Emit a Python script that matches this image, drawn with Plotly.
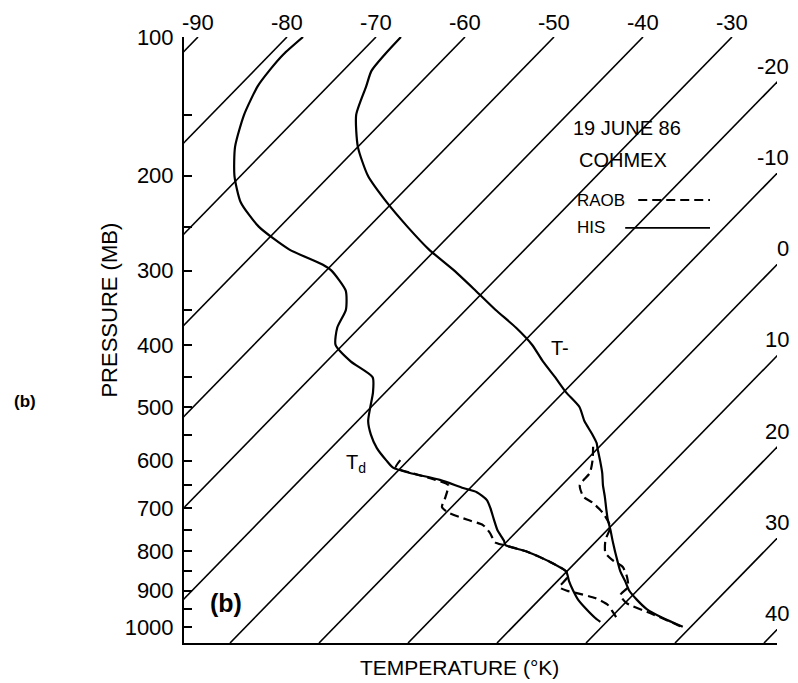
import plotly.graph_objects as go

# ---------------- data (pressure in mb, temperature in deg C) ----------------
his_T_p = [100, 110, 120, 130, 150, 175, 200, 225, 250, 275, 300, 325, 350, 375, 400,
           425, 450, 475, 500, 525, 550, 566, 575, 600, 625, 650, 675, 700, 725, 750,
           775, 800, 825, 850, 875, 900, 925, 950, 975, 1000]
his_T = [-67.2, -67.1, -66.8, -65.7, -63.7, -60.0, -55.7, -50.7, -45.7, -40.8, -35.6,
         -31.0, -26.7, -22.4, -18.7, -15.7, -12.6, -9.7, -6.6, -4.5, -2.1, -0.7, -0.1,
         1.6, 3.2, 4.6, 6.1, 7.5, 8.9, 10.4, 11.8, 13.2, 14.6, 16.0, 17.6, 19.1, 21.0,
         23.1, 25.9, 29.1]

his_Td_p = [100, 110, 120, 130, 150, 175, 200, 225, 250, 275, 293, 300, 325, 350, 375,
            400, 425, 450, 475, 500, 525, 550, 575, 600, 614, 625, 639, 656, 665, 682,
            700, 725, 750, 775, 785, 800, 825, 850, 875, 900, 925, 950, 975, 986]
his_Td = [-78.2, -78.5, -78.3, -77.9, -76.3, -73.8, -70.7, -67.1, -62.4, -56.5, -51.0,
          -49.4, -45.6, -43.5, -42.5, -40.8, -37.3, -33.1, -31.4, -30.1, -28.8, -27.0,
          -24.9, -22.4, -20.9, -18.4, -14.3, -10.8, -8.8, -6.8, -5.5, -3.9, -2.3, -0.4,
          0.2, 3.2, 6.9, 9.9, 11.3, 12.8, 14.4, 16.3, 18.3, 19.3]

raob_T_p = [573, 599, 625, 650, 675, 688, 711, 742, 773, 804, 822, 839, 865, 891, 912,
            934, 961, 989, 1001]
raob_T = [-0.7, 0.7, 1.8, 2.0, 3.7, 5.4, 7.7, 10.0, 10.9, 12.3, 13.9, 15.8, 17.4, 18.6,
          18.6, 20.2, 23.9, 27.6, 29.1]

raob_Td_p = [599, 614, 625, 639, 650, 675, 697, 708, 726, 738, 757, 778, 785, 800, 825,
             850, 865, 891, 901, 907, 920, 939, 958, 981]
raob_Td = [-20.9, -20.6, -18.2, -14.8, -12.8, -11.8, -11.1, -10.0, -6.8, -4.5, -2.8,
           -1.3, 0.0, 3.2, 6.9, 9.9, 10.7, 10.9, 12.2, 13.5, 16.1, 18.3, 19.6, 21.1]

isotherms = list(range(-90, 41, 10))
top_labels = [-90, -80, -70, -60, -50, -40, -30]
right_labels = [-20, -10, 0, 10, 20, 30, 40]

p_major = [100, 200, 300, 400, 500, 600, 700, 800, 900, 1000]
p_minor = [150, 250, 350, 450, 550, 650, 750, 850, 950]

# ---------------- diagram projection ----------------
KAPPA = 0.286
P_TOP, P_BOT = 100, 1047
SKEW = 18.58
X_LEFT, X_RIGHT = -25.17, 41.46


def Yp(p):
    return p ** KAPPA


Y_TOP, Y_BOT = Yp(P_TOP), Yp(P_BOT)


def X(T, p):
    return T + SKEW * (Y_BOT - Yp(p))


FONT = "Liberation Sans, Arial, sans-serif"
fig = go.Figure()

# isotherms
for t in isotherms:
    fig.add_trace(go.Scatter(
        x=[X(t, P_TOP), X(t, P_BOT)], y=[Y_TOP, Y_BOT], mode="lines",
        line=dict(color="black", width=1.6), hoverinfo="skip", showlegend=False))


def curve(ps, ts, dash, name):
    fig.add_trace(go.Scatter(
        x=[X(t, p) for p, t in zip(ps, ts)], y=[Yp(p) for p in ps], mode="lines",
        line=dict(color="black", width=2.2, dash=dash, shape="spline", smoothing=0.6),
        name=name, showlegend=False))


curve(his_T_p, his_T, "solid", "HIS T")
curve(his_Td_p, his_Td, "solid", "HIS Td")
curve(raob_T_p, raob_T, "9px,5px", "RAOB T")
curve(raob_Td_p, raob_Td, "9px,5px", "RAOB Td")

ann = []
for t in top_labels:
    ann.append(dict(x=X(t, P_TOP), y=Y_TOP, text=str(t), showarrow=False,
                    xanchor="center", yanchor="middle", yshift=15,
                    font=dict(size=22, color="black", family=FONT)))
for t in right_labels:
    y_end = Y_BOT - (X_RIGHT - t) / SKEW
    ann.append(dict(x=X_RIGHT, y=y_end, text=str(t), showarrow=False,
                    xanchor="right", yanchor="middle", xshift=14, yshift=16,
                    font=dict(size=22, color="black", family=FONT)))


def pa(text, x, y, size=18, **kw):
    d = dict(xref="paper", yref="paper", x=x, y=y, text=text, showarrow=False,
             xanchor="center", yanchor="middle",
             font=dict(size=size, color="black", family=FONT))
    d.update(kw)
    ann.append(d)


pa("19 JUNE 86", 0.747, 0.850, 20)
pa("COHMEX", 0.740, 0.797, 20)
pa("RAOB", 0.659, 0.731, 17, xanchor="left")
pa("HIS", 0.659, 0.685, 17, xanchor="left")
pa("T-", 0.634, 0.487, 20)
pa("T<sub>d</sub>", 0.290, 0.297, 20)
pa("<b>(b)</b>", 0.071, 0.066, 25)
pa("<b>(b)</b>", -0.268, 0.399, 17)
pa("PRESSURE (MB)", -0.125, 0.55, 22, textangle=-90)
pa("TEMPERATURE (°K)", 0.464, -0.041, 21)

shapes = [
    dict(type="line", xref="paper", yref="paper", x0=0.766, x1=0.887, y0=0.731, y1=0.731,
         line=dict(color="black", width=1.8, dash="9px,5px")),
    dict(type="line", xref="paper", yref="paper", x0=0.744, x1=0.887, y0=0.685, y1=0.685,
         line=dict(color="black", width=1.8)),
]

fig.update_layout(
    width=798, height=683,
    margin=dict(l=184, r=21, t=37, b=40),
    paper_bgcolor="white", plot_bgcolor="white",
    annotations=ann, shapes=shapes, showlegend=False,
    xaxis=dict(range=[X_LEFT, X_RIGHT], showgrid=False, zeroline=False,
               showticklabels=False, ticks="", showline=True, linecolor="black",
               linewidth=2, fixedrange=True),
    yaxis=dict(range=[Y_BOT, Y_TOP], showgrid=False, zeroline=False,
               tickmode="array", tickvals=[Yp(p) for p in p_major],
               ticktext=[str(p) for p in p_major], ticks="inside", ticklen=8,
               tickwidth=1.5, tickcolor="black", showline=True, linecolor="black",
               linewidth=2, ticklabelstandoff=4,
               tickfont=dict(size=22, color="black", family=FONT),
               minor=dict(tickmode="array", tickvals=[Yp(p) for p in p_minor],
                          ticks="inside", ticklen=8, tickwidth=1.5, tickcolor="black"),
               fixedrange=True),
)

fig.write_html("out.html")
